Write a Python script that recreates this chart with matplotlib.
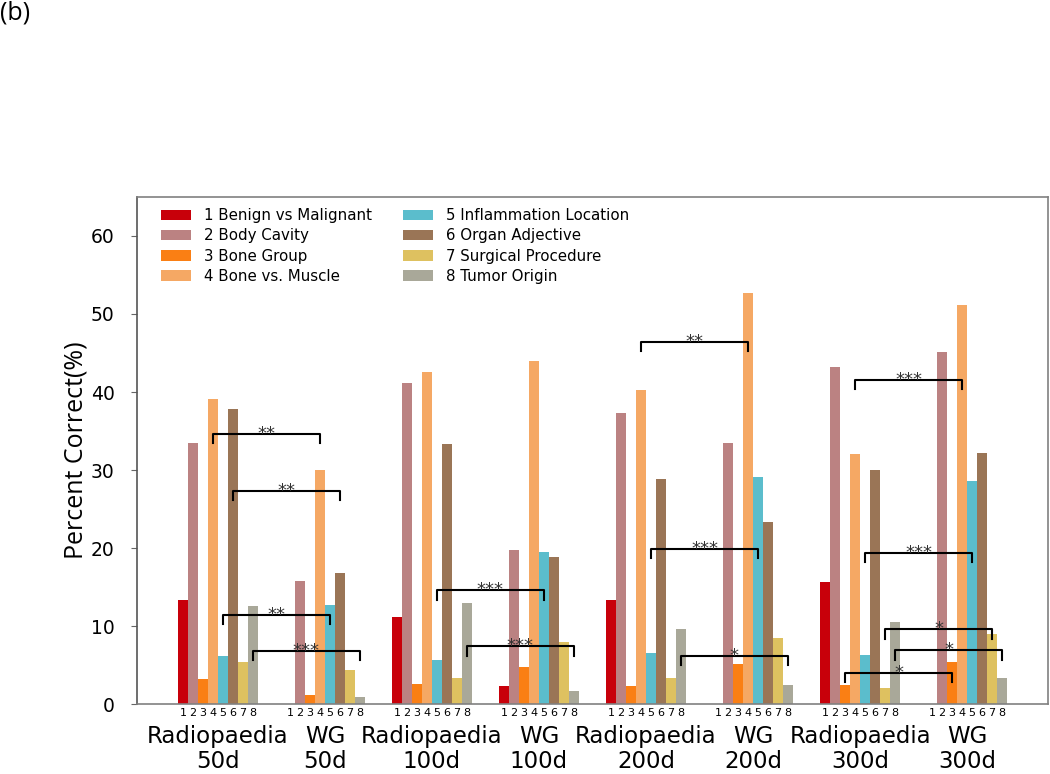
import matplotlib
matplotlib.use("Agg")
import matplotlib.pyplot as plt
import matplotlib.transforms as mtransforms
import numpy as np

# === Data ===
categories = [
    "1 Benign vs Malignant",
    "2 Body Cavity",
    "3 Bone Group",
    "4 Bone vs. Muscle",
    "5 Inflammation Location",
    "6 Organ Adjective",
    "7 Surgical Procedure",
    "8 Tumor Origin",
]
group_names = ["Radiopaedia", "WG", "Radiopaedia", "WG", "Radiopaedia", "WG", "Radiopaedia", "WG"]
group_days = ["50d", "50d", "100d", "100d", "200d", "200d", "300d", "300d"]

# one row per group, one column per category (percent correct)
radio_50 = [13.4, 33.4, 3.2, 39.1, 6.1, 37.8, 5.4, 12.6]
wg_50 = [0.0, 15.8, 1.2, 30.0, 12.7, 16.8, 4.3, 0.9]
radio_100 = [11.2, 41.2, 2.6, 42.5, 5.6, 33.3, 3.3, 13.0]
wg_100 = [2.3, 19.7, 4.8, 44.0, 19.5, 18.9, 8.0, 1.7]
radio_200 = [13.4, 37.3, 2.3, 40.2, 6.6, 28.9, 3.3, 9.6]
wg_200 = [0.0, 33.4, 5.1, 52.7, 29.1, 23.3, 8.5, 2.5]
radio_300 = [15.6, 43.2, 2.5, 32.0, 6.3, 30.0, 2.1, 10.5]
wg_300 = [0.0, 45.1, 5.4, 51.2, 28.6, 32.2, 9.0, 3.4]

# significance brackets: pair index (0 = 50d, ...), category number, height, label
sig_pairs = [0, 0, 0, 0, 1, 1, 2, 2, 2, 3, 3, 3, 3, 3]
sig_cats = [4, 6, 5, 8, 5, 8, 4, 5, 8, 4, 5, 7, 8, 3]
sig_heights = [34.6, 27.3, 11.4, 6.8, 14.6, 7.4, 46.4, 19.9, 6.15, 41.6, 19.4, 9.6, 6.9, 4.0]
sig_labels = ["**", "**", "**", "***", "***", "***", "**", "***", "*", "***", "***", "*", "*", "*"]

colors = ["#c8000a", "#bb8282", "#fa7f14", "#f5a864", "#5bbdcc", "#9a7556", "#dec160", "#a9a899"]

groups = [radio_50, wg_50, radio_100, wg_100, radio_200, wg_200, radio_300, wg_300]
values = np.array(groups)

# === Plot ===
fig = plt.figure(figsize=(10.5, 7.74), dpi=100)
ax = fig.add_axes([0.1305, 0.0904, 0.8675, 0.6551])

w = 0.0932
n_groups, n_cats = values.shape
for k in range(n_cats):
    xs = np.arange(n_groups) + (k + 0.5) * w
    ax.bar(xs, values[:, k], width=w, color=colors[k], label=categories[k], linewidth=0)


def bar_x(g, k):
    return g + (k - 0.5) * w


# brackets
drop = 1.2
for p, c, h, s in zip(sig_pairs, sig_cats, sig_heights, sig_labels):
    x1 = bar_x(2 * p, c)
    x2 = bar_x(2 * p + 1, c)
    ax.plot([x1, x1, x2, x2], [h - drop, h, h, h - drop], color="black", lw=1.5)
    ax.text((x1 + x2) / 2, h, s, ha="center", va="center", fontsize=13, color="#333333")

# x ticks: category numbers under each bar
tick_pos = [g + (k + 0.5) * w for g in range(n_groups) for k in range(n_cats)]
tick_lab = [str(k + 1) for g in range(n_groups) for k in range(n_cats)]
ax.set_xticks(tick_pos)
ax.set_xticklabels(tick_lab, fontsize=8)
ax.tick_params(axis="x", length=0, pad=3)

# group labels
trans = mtransforms.blended_transform_factory(ax.transData, fig.transFigure)
for g in range(n_groups):
    cx = g + n_cats * w / 2
    ax.text(cx, 1 - 743 / 774, group_names[g], transform=trans, ha="center",
            va="baseline", fontsize=16.5)
    ax.text(cx, 1 - 768 / 774, group_days[g], transform=trans, ha="center",
            va="baseline", fontsize=16.5)

ax.set_xlim(-0.382, n_groups - 1 + n_cats * w + 0.382)
ax.set_ylim(0, 65)
ax.set_yticks([0, 10, 20, 30, 40, 50, 60])
ax.tick_params(axis="y", labelsize=13.5, length=4, pad=12, color="#666666")
ax.set_ylabel("Percent Correct(%)", family="Open Sans", fontsize=18, labelpad=2)

for sp in ax.spines.values():
    sp.set_color("#808080")
    sp.set_linewidth(1.2)
ax.spines["left"].set_color("#555555")

ax.legend(loc="upper left", bbox_to_anchor=(0.0263, 0.978), ncol=2, frameon=False,
          fontsize=10.8, handlelength=2.0, handleheight=0.7, handletextpad=0.85,
          columnspacing=2.1, labelspacing=0.35, borderpad=0, borderaxespad=0)

fig.text(0.0, 1.0, "(b)", family="Open Sans", fontsize=18, ha="left", va="top")

fig.savefig("out.png", dpi=100)
